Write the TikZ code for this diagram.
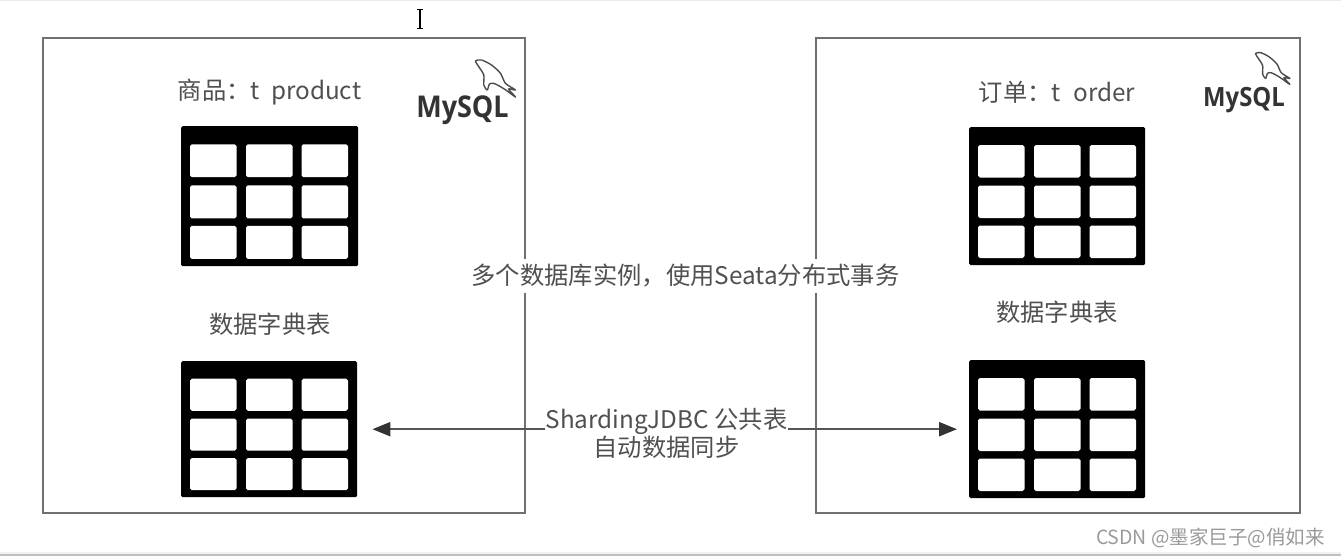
\documentclass[tikz,border=0pt]{standalone}
\usepackage{fontspec}
\setmainfont{Noto Sans CJK SC}
\newfontfamily\logofont{Open Sans}[FakeStretch=0.9]
\usetikzlibrary{arrows.meta}
\definecolor{txt}{HTML}{505050}
\definecolor{frameline}{HTML}{707070}
\definecolor{arrowline}{HTML}{555555}
\definecolor{wm}{HTML}{9A9A9A}
\tikzset{
  label24/.style={inner sep=0pt,text=txt,font=\fontsize{24.3}{29}\selectfont,align=center},
  frame/.style={draw=frameline,line width=2pt,fill=white,minimum width=#1,inner sep=0pt},
  tablebody/.style={fill=black,rounded corners=1.5pt,inner sep=0pt,anchor=north west},
  cell/.style={fill=white,rounded corners=1.8pt},
  sync/.style={draw=arrowline,line width=2.2pt,-{Triangle[length=18pt,width=14pt,color=black!80]}},
  dolphinline/.style={draw=black!70,line width=1.4pt,fill=white,line join=round},
  logotext/.style={inner sep=0pt,text=black!80,font=\logofont\fontsize{#1}{#1}\selectfont\bfseries}
}
% name, x, y, width, height
\newcommand{\datatable}[5]{%
  \node[tablebody,minimum width=#4pt,minimum height=#5pt] (#1) at (#2,#3) {};
  \begin{scope}[shift={(#2,#3)},yscale=#5/138]
    \foreach \cx in {9,65,120.5}
      \foreach \cy in {18,58.5,98.5}
        \fill[cell] (\cx,\cy) rectangle (\cx+46.5,\cy+32.5);
  \end{scope}
}
% x, y of the nose, scale
\newcommand{\dolphin}[3]{%
  \begin{scope}[shift={(#1,#2)},scale=#3]
    \draw[dolphinline] plot[smooth cycle,tension=0.45] coordinates {(0,0) (6,-1) (16,4) (25,12.4) (30,22.4) (40,29)
      (33,28) (40,36) (31.7,30) (25,25.7) (18.3,22.4) (14,23) (11.7,29) (8.3,24) (8.3,14) (3.3,5.7)};
  \end{scope}
}
\begin{document}
\begin{tikzpicture}[x=1pt,y=-1pt]
\useasboundingbox (0,0) rectangle (1341,557);
\fill[black!8] (0,0) rectangle (1341,1.2);
\fill[black!5] (0,552) rectangle (1341,554);
\fill[blue!10!black!25] (0,554) rectangle (1341,555.5);

% frames
\node[frame=482pt,minimum height=475pt,anchor=north west] (dbL) at (41.5,37) {};
\node[frame=484pt,minimum height=475pt,anchor=north west] (dbR) at (815,37) {};

% cursor
\draw[black,line width=1.2pt] (420,9) -- (420,28);
\draw[black,line width=1pt] (417,9) -- (423,9) (417,28) -- (423,28);

% tables
\datatable{tTL}{181}{126}{177}{140}
\datatable{tBL}{181}{361}{176}{136}
\datatable{tTR}{969}{127}{176}{138}
\datatable{tBR}{969}{360}{176}{138}

% labels
\node[label24] (prod) at (269.5,92) {商品\char"FF1At\hspace{6pt} product};
\node[label24] (ord) at (1057,92) {订单\char"FF1At\hspace{7pt} order};
\node[label24] (dictL) at (270,324) {数据字典表};
\node[label24] (dictR) at (1057,312) {数据字典表};
\node[label24,fill=white,minimum height=34pt] (seata) at (685.5,276) {多个数据库实例\char"FF0C 使用Seata分布式事务};
\node[label24] (shard) at (666.5,433) {ShardingJDBC 公共表\\[-1pt]自动数据同步};

% connectors
\draw[sync,shorten >=15pt] (shard.west |- tBL.east) -- (tBL.east);
\draw[sync,shorten >=12pt] (shard.east |- tBR.east) -- (tBR.west);

% logos
\dolphin{475.5}{61}{1}
\dolphin{1255.5}{53.5}{0.86}
\node[logotext=30] (mysqlL) at (462.5,110) {MySQL};
\node[logotext=26.5] (mysqlR) at (1244,100) {MySQL};

% watermark
\node[inner sep=0pt,text=wm,font=\fontsize{19.5}{22}\selectfont,anchor=east] (wmark) at (1325,538) {CSDN @墨家巨子@俏如来};
\end{tikzpicture}
\end{document}
